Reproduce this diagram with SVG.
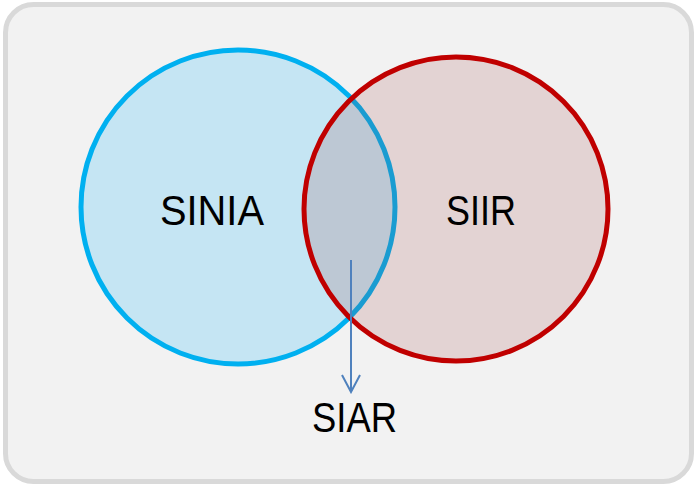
<svg xmlns="http://www.w3.org/2000/svg" width="698" height="486" viewBox="0 0 698 486">
  <style>
    .lbl { font-family: "Liberation Sans", Arial, sans-serif; font-size: 42px; fill: #000; text-anchor: middle; }
  </style>
  <defs>
    <marker id="arr" viewBox="0 0 20 20" refX="18" refY="10" markerWidth="20" markerHeight="20" markerUnits="userSpaceOnUse" orient="auto">
      <path d="M1,1 L18,10 L1,19" fill="none" stroke="#4f81bd" stroke-width="2"/>
    </marker>
  </defs>
  <rect x="0" y="0" width="698" height="486" fill="#ffffff"/>
  <g id="panel">
    <rect x="5.5" y="4.5" width="686" height="477" rx="28" ry="28" fill="#f2f2f2" stroke="#d9d9d9" stroke-width="5"/>
  </g>
  <g id="sinia">
    <circle cx="238" cy="207" r="157" fill="#c5e5f3" stroke="#00b0f0" stroke-width="5"/>
    <text class="lbl" x="212" y="225" textLength="104" lengthAdjust="spacingAndGlyphs">SINIA</text>
  </g>
  <g id="siir">
    <circle cx="456" cy="209" r="152" fill="rgb(154,60,60)" fill-opacity="0.17"/>
    <circle cx="456" cy="209" r="152" fill="none" stroke="#c00000" stroke-width="5"/>
    <text class="lbl" x="481" y="225" textLength="70" lengthAdjust="spacingAndGlyphs">SIIR</text>
  </g>
  <g id="connectors">
    <line x1="351" y1="260" x2="351" y2="392" stroke="#4f81bd" stroke-width="2" marker-end="url(#arr)"/>
  </g>
  <g id="siar">
    <text class="lbl" x="354.5" y="432" textLength="85" lengthAdjust="spacingAndGlyphs">SIAR</text>
  </g>
</svg>
